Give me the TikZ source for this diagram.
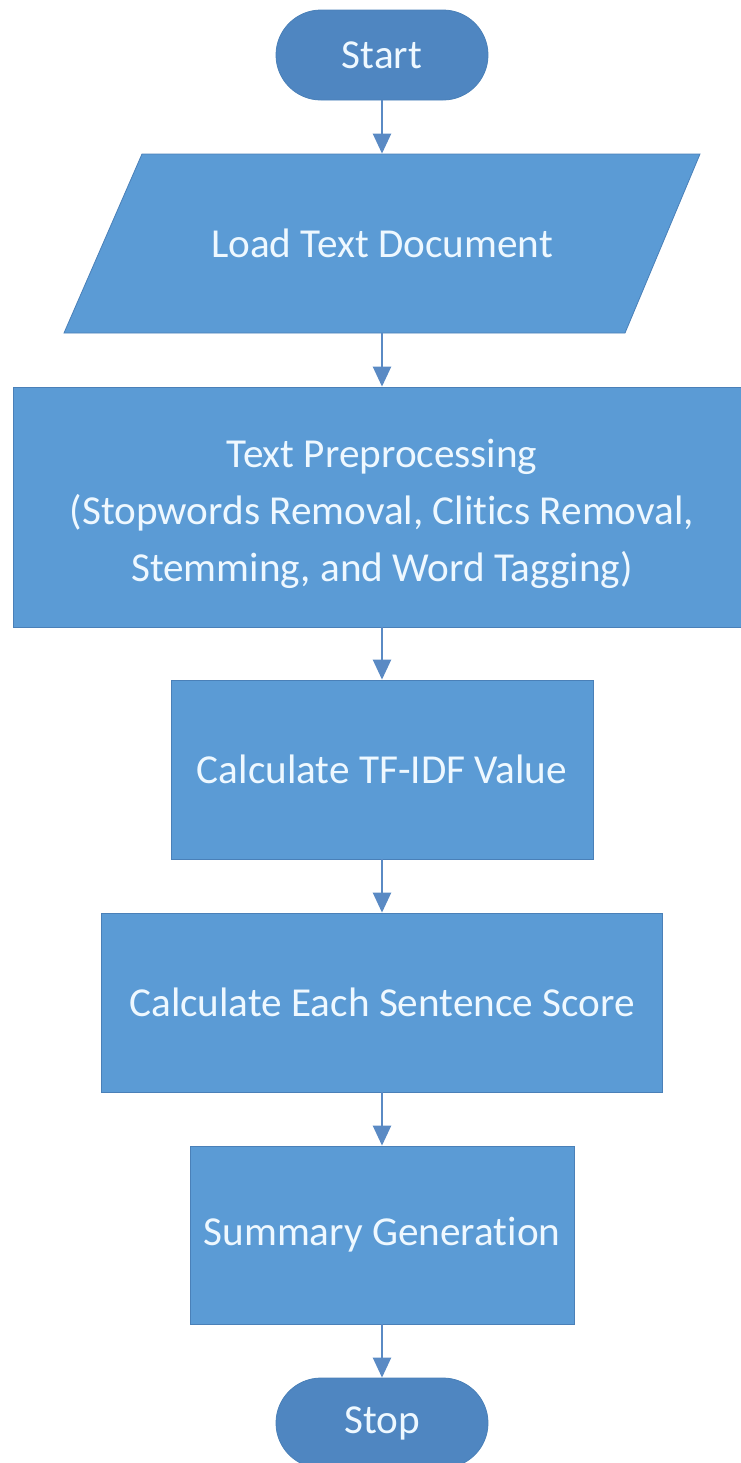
\documentclass[tikz,border=0pt]{standalone}
\usepackage{fontspec}
\setmainfont[Ligatures=NoCommon]{Carlito}
\usetikzlibrary{arrows.meta}
\definecolor{boxblue}{HTML}{5B9BD5}
\definecolor{pillblue}{HTML}{4F86C1}
\definecolor{edgeblue}{HTML}{4A80B8}
\definecolor{arrowblue}{HTML}{5A8AC4}
\definecolor{txtcol}{HTML}{EEF8FF}
\tikzset{
  labelfont/.style={text=txtcol, font=\fontsize{20.6}{28.5}\selectfont, align=center},
  procbox/.style={rectangle, fill=boxblue, draw=edgeblue, line width=0.4pt, labelfont, inner sep=0pt},
  iobox/.style={fill=boxblue, draw=edgeblue, line width=0.4pt},
  terminal/.style={rectangle, rounded corners=22.5pt, fill=pillblue, draw=edgeblue, line width=0.4pt, labelfont, minimum width=106pt, minimum height=45pt, inner sep=0pt},
  flow/.style={draw=arrowblue, line width=1.2pt, -{Triangle[length=10pt,width=9pt]}}
}
\begin{document}
\begin{tikzpicture}[x=0.5pt,y=-0.5pt]
\useasboundingbox (0,0) rectangle (740,1463);
\node[terminal] (start) at (382,55) {Start};
\draw[iobox] (142,154) -- (700,154) -- (625,333) -- (64,333) -- cycle;
\node[labelfont, minimum height=89.5pt, inner sep=0pt] (load) at (382,243.5) {Load Text Document};
\node[procbox, minimum width=369pt, minimum height=120pt] (pre) at (382,507) {\rule{0pt}{21pt}Text Preprocessing\\(Stopwords Removal, Clitics Removal,\\Stemming, and Word Tagging)};
\node[procbox, minimum width=211pt, minimum height=89.5pt] (tfidf) at (382,769.5) {Calculate TF-IDF Value};
\node[procbox, minimum width=280.5pt, minimum height=89.5pt] (score) at (382,1002.5) {Calculate Each Sentence Score};
\node[procbox, minimum width=192pt, minimum height=89pt] (summ) at (382,1235) {Summary Generation};
\node[terminal] (stop) at (382,1423) {Stop};
\draw[flow] (start.south) -- (load.north);
\draw[flow] (load.south) -- (pre.north);
\draw[flow] (pre.south) -- (tfidf.north);
\draw[flow] (tfidf.south) -- (score.north);
\draw[flow] (score.south) -- (summ.north);
\draw[flow] (summ.south) -- (stop.north);
\end{tikzpicture}
\end{document}
